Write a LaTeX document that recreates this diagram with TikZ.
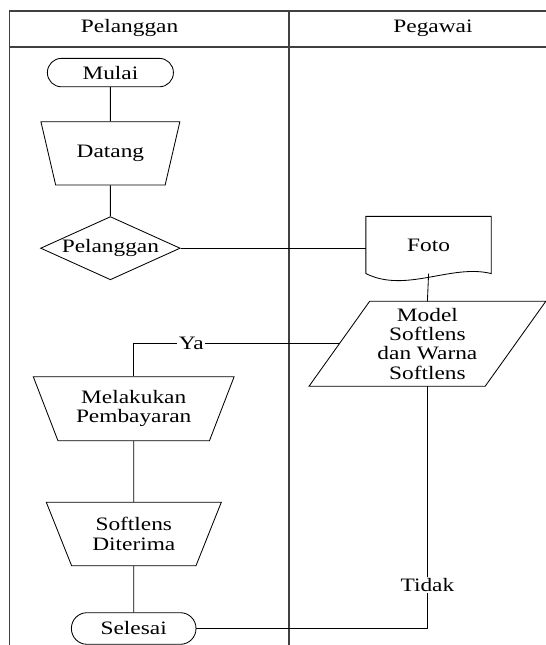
\documentclass[tikz,border=0pt]{standalone}
\usepackage{fontspec}
\setmainfont{Liberation Serif}[FakeStretch=1.23]
\usetikzlibrary{shapes.geometric}

\begin{document}
\begin{tikzpicture}[
  every node/.style={font=\fontsize{13.5}{13.8}\selectfont},
  terminal/.style={draw, line width=0.6pt, inner sep=0pt},
  manual/.style={draw, line width=0.6pt, trapezium, shape border rotate=180,
    trapezium left angle=64, trapezium right angle=64,
    trapezium stretches=true, align=center, inner sep=1pt},
  decision/.style={draw, line width=0.6pt, diamond, aspect=2.2, inner sep=0pt,
    minimum width=3.49cm, minimum height=1.58cm},
  data/.style={minimum width=4.39cm, minimum height=2.11cm, align=center,
    inner sep=0pt},
  line/.style={line width=0.6pt},
  lane/.style={line width=0.9pt, black!75},
  tag/.style={fill=white, inner sep=1pt}
]
\useasboundingbox (0,0) rectangle (13.65,16.125);

% Swimlanes
\draw[lane] (0.2375,0) -- (0.2375,15.85) -- (13.65,15.85);
\draw[lane] (0.2375,14.95) -- (13.65,14.95);
\draw[lane] (7.225,0) -- (7.225,15.85);
\node (hpel) at (3.24,15.42) {Pelanggan};
\node (hpeg) at (10.825,15.42) {Pegawai};

% Pelanggan
\node[terminal, minimum width=3.15cm, minimum height=0.71cm,
  rounded corners=3.5mm] (mulai) at (2.76,14.31) {Mulai};
\node[manual, minimum width=3.49cm, minimum height=1.58cm]
  (datang) at (2.76,12.29) {Datang};
\node[decision] (cek) at (2.76,9.92) {\makebox[0pt]{Pelanggan}};

% Pegawai
\node[minimum width=3.12cm, minimum height=1.415cm] (foto) at (10.715,10.0) {Foto};
\draw[line] (foto.south west) -- (foto.north west) -- (foto.north east)
  -- (foto.south east) .. controls +(-1.0,0.25) and +(1.0,-0.5) .. (foto.south west);
\node[data] (model) at (10.685,7.53) {Model\\Softlens\\dan Warna\\Softlens};
\draw[line] ([xshift=0.758cm]model.north west) -- ([xshift=0.758cm]model.north east)
  -- ([xshift=-0.758cm]model.south east) -- ([xshift=-0.758cm]model.south west)
  -- cycle;

% Pembayaran
\node[manual, minimum width=5.03cm, minimum height=1.6cm]
  (bayar) at (3.3425,5.9075) {Melakukan\\Pembayaran};
\node[manual, minimum width=4.395cm, minimum height=1.585cm]
  (terima) at (3.345,2.775) {Softlens\\Diterima};
\node[terminal, minimum width=3.115cm, minimum height=0.79cm,
  rounded corners=3.9mm] (selesai) at (3.3425,0.4125) {Selesai};

% Arus
\draw[line] (mulai) -- (datang);
\draw[line] (datang) -- (cek);
\draw[line] (cek.east) -- (cek.east -| foto.west);
\draw[line] (foto.south) -- (model.north);
\draw[line] (model.west) -| node[tag, pos=0.36] {Ya} (bayar.north);
\draw[line] (bayar) -- (terima);
\draw[line] (terima) -- (selesai);
\draw[line] (model.south) |- node[tag, pos=0.41] {Tidak} (selesai.east);

\end{tikzpicture}
\end{document}
